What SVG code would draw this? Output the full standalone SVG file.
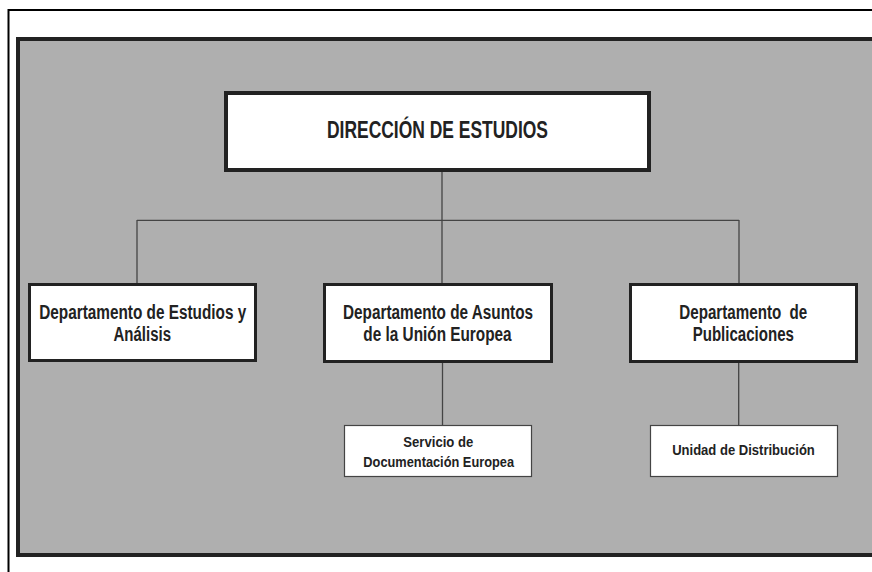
<svg xmlns="http://www.w3.org/2000/svg" width="872" height="572" viewBox="0 0 872 572">
<style>
.frame{fill:#ffffff;stroke:#000000;stroke-width:2}
.panel{fill:#afafaf;stroke:#222222;stroke-width:4}
.main{fill:#ffffff;stroke:#222222;stroke-width:4}
.dept{fill:#ffffff;stroke:#222222;stroke-width:3}
.unit{fill:#ffffff;stroke:#444444;stroke-width:1.2}
.conn{stroke:#444444;stroke-width:1.3;fill:none}
text{font-family:"Liberation Sans",Arial,sans-serif;font-weight:bold;fill:#222222;text-anchor:middle}
.t1{font-size:23px}
.t2{font-size:19.5px}
.t3{font-size:15px}
</style>
<rect class="frame" x="8.5" y="10" width="900" height="600"/>
<rect class="panel" x="18" y="39" width="870" height="516"/>
<g id="connectors">
<line class="conn" x1="442" y1="172" x2="442" y2="283"/>
<line class="conn" x1="137" y1="220.3" x2="739" y2="220.3"/>
<line class="conn" x1="137" y1="220" x2="137" y2="283"/>
<line class="conn" x1="739" y1="220" x2="739" y2="283"/>
<line class="conn" x1="442.5" y1="363" x2="442.5" y2="425"/>
<line class="conn" x1="738.7" y1="363" x2="738.7" y2="425"/>
</g>
<g id="direccion">
<rect class="main" x="226" y="93" width="423" height="77"/>
<text class="t1" x="437.5" y="138" textLength="221" lengthAdjust="spacingAndGlyphs">DIRECCIÓN DE ESTUDIOS</text>
</g>
<g id="dep-estudios">
<rect class="dept" x="29.5" y="284.5" width="226" height="76"/>
<text class="t2" x="142.7" y="319" textLength="207" lengthAdjust="spacingAndGlyphs">Departamento de Estudios y</text>
<text class="t2" x="142.3" y="341" textLength="57.5" lengthAdjust="spacingAndGlyphs">Análisis</text>
</g>
<g id="dep-ue">
<rect class="dept" x="324.5" y="284.5" width="227" height="77"/>
<text class="t2" x="438" y="318.5" textLength="190" lengthAdjust="spacingAndGlyphs">Departamento de Asuntos</text>
<text class="t2" x="437.5" y="341" textLength="148.3" lengthAdjust="spacingAndGlyphs">de la Unión Europea</text>
</g>
<g id="dep-publicaciones">
<rect class="dept" x="630.5" y="284.5" width="226" height="77"/>
<text class="t2" x="743.3" y="318.5" textLength="128" lengthAdjust="spacingAndGlyphs" xml:space="preserve">Departamento  de</text>
<text class="t2" x="743.3" y="341" textLength="101.3" lengthAdjust="spacingAndGlyphs">Publicaciones</text>
</g>
<g id="serv-documentacion">
<rect class="unit" x="344.5" y="425.5" width="187" height="51"/>
<text class="t3" x="438.3" y="446.5" textLength="70" lengthAdjust="spacingAndGlyphs">Servicio de</text>
<text class="t3" x="438.7" y="467" textLength="150.7" lengthAdjust="spacingAndGlyphs">Documentación Europea</text>
</g>
<g id="unidad-distribucion">
<rect class="unit" x="650.5" y="425.5" width="187" height="51"/>
<text class="t3" x="743.5" y="455" textLength="142.7" lengthAdjust="spacingAndGlyphs">Unidad de Distribución</text>
</g>
</svg>
